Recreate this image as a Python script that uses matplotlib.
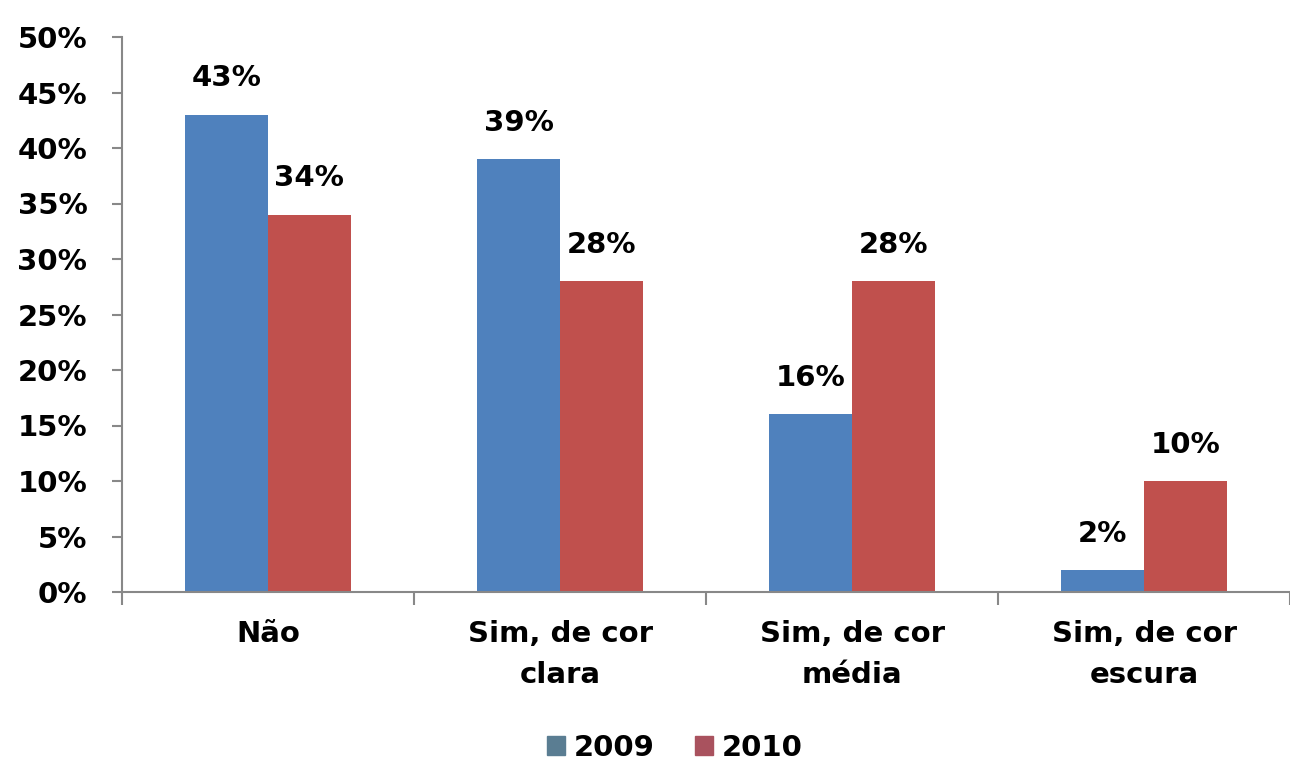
import numpy as np
import matplotlib.pyplot as plt
from matplotlib.patches import Patch

plt.rcParams['font.family'] = ['DejaVu Sans']

categories = ['Não', 'Sim, de cor\nclara', 'Sim, de cor\nmédia', 'Sim, de cor\nescura']
values_2009 = [43, 39, 16, 2]
values_2010 = [34, 28, 28, 10]
series_names = ['2009', '2010']
yticks = [0, 5, 10, 15, 20, 25, 30, 35, 40, 45, 50]

blue = '#4F81BD'
red = '#C0504D'


def plot_bars():
    fig = plt.figure(figsize=(12.9, 7.67), dpi=100)
    ax = fig.add_axes([122 / 1290, 1 - 592 / 767, 1 - 122 / 1290, (592 - 37) / 767])

    x = np.arange(len(categories))
    w = 0.283
    b1 = ax.bar(x - w / 2, values_2009, w, color=blue)
    b2 = ax.bar(x + w / 2, values_2010, w, color=red)

    for bars, vals in [(b1, values_2009), (b2, values_2010)]:
        for bar, v in zip(bars, vals):
            ax.annotate(f'{v}%', (bar.get_x() + bar.get_width() / 2, v),
                        xytext=(0, 16), textcoords='offset points',
                        ha='center', va='bottom', fontsize=21, fontweight='bold')

    ax.set_ylim(0, 50)
    ax.set_yticks(yticks)
    ax.set_yticklabels([f'{t}%' for t in yticks], fontsize=21, fontweight='bold')
    ax.set_xlim(-0.5, (1290 - 270) / 296)
    ax.set_xticks(x)
    ax.set_xticklabels(categories, fontsize=21, fontweight='bold', linespacing=1.6)
    ax.tick_params(axis='x', length=0, pad=20)
    ax.set_xticks(np.arange(-0.5, len(categories), 1), minor=True)
    ax.tick_params(axis='x', which='minor', length=9, width=1.5, color='#888888', direction='out')
    ax.tick_params(axis='y', length=7, width=1.5, color='#888888', pad=18)

    for s in ['top', 'right']:
        ax.spines[s].set_visible(False)
    for s in ['left', 'bottom']:
        ax.spines[s].set_color('#888888')
        ax.spines[s].set_linewidth(1.5)

    handles = [Patch(color='#5A7D92'), Patch(color='#A9525E')]
    fig.legend(handles, series_names, loc='center', bbox_to_anchor=(675 / 1290, 1 - 748 / 767),
               ncol=2, frameon=False, prop={'size': 21, 'weight': 'bold'},
               handlelength=0.6, handleheight=0.6, handletextpad=0.3, columnspacing=1.4)

    fig.savefig('out.png', dpi=100)


if __name__ == '__main__':
    plot_bars()
